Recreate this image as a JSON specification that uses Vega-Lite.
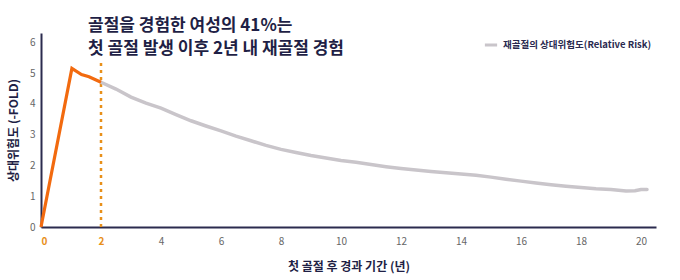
{
  "$schema": "https://vega.github.io/schema/vega-lite/v6.json",
  "width": 615,
  "height": 194,
  "autosize": {"type": "none"},
  "padding": {"left": 41, "top": 33, "right": 24, "bottom": 53},
  "background": "white",
  "config": {"view": {"stroke": null}, "font": "Noto Sans CJK KR"},
  "title": {
    "text": ["골절을 경험한 여성의 41%는", "첫 골절 발생 이후 2년 내 재골절 경험"],
    "anchor": "start",
    "frame": "group",
    "dx": 47,
    "offset": -25,
    "fontSize": 17,
    "fontWeight": "bold",
    "lineHeight": 23,
    "color": "#1f1f45",
    "font": "Noto Sans CJK KR"
  },
  "datasets": {
    "risk": [
      {"t": 2, "rr": 4.70, "s": "재골절의 상대위험도(Relative Risk)"},
      {"t": 2.5, "rr": 4.48, "s": "재골절의 상대위험도(Relative Risk)"},
      {"t": 3, "rr": 4.22, "s": "재골절의 상대위험도(Relative Risk)"},
      {"t": 3.5, "rr": 4.02, "s": "재골절의 상대위험도(Relative Risk)"},
      {"t": 4, "rr": 3.86, "s": "재골절의 상대위험도(Relative Risk)"},
      {"t": 4.5, "rr": 3.65, "s": "재골절의 상대위험도(Relative Risk)"},
      {"t": 5, "rr": 3.45, "s": "재골절의 상대위험도(Relative Risk)"},
      {"t": 5.5, "rr": 3.28, "s": "재골절의 상대위험도(Relative Risk)"},
      {"t": 6, "rr": 3.12, "s": "재골절의 상대위험도(Relative Risk)"},
      {"t": 6.5, "rr": 2.95, "s": "재골절의 상대위험도(Relative Risk)"},
      {"t": 7, "rr": 2.80, "s": "재골절의 상대위험도(Relative Risk)"},
      {"t": 7.5, "rr": 2.65, "s": "재골절의 상대위험도(Relative Risk)"},
      {"t": 8, "rr": 2.52, "s": "재골절의 상대위험도(Relative Risk)"},
      {"t": 8.5, "rr": 2.42, "s": "재골절의 상대위험도(Relative Risk)"},
      {"t": 9, "rr": 2.32, "s": "재골절의 상대위험도(Relative Risk)"},
      {"t": 9.5, "rr": 2.24, "s": "재골절의 상대위험도(Relative Risk)"},
      {"t": 10, "rr": 2.16, "s": "재골절의 상대위험도(Relative Risk)"},
      {"t": 10.5, "rr": 2.10, "s": "재골절의 상대위험도(Relative Risk)"},
      {"t": 11, "rr": 2.03, "s": "재골절의 상대위험도(Relative Risk)"},
      {"t": 11.5, "rr": 1.96, "s": "재골절의 상대위험도(Relative Risk)"},
      {"t": 12, "rr": 1.90, "s": "재골절의 상대위험도(Relative Risk)"},
      {"t": 12.5, "rr": 1.85, "s": "재골절의 상대위험도(Relative Risk)"},
      {"t": 13, "rr": 1.80, "s": "재골절의 상대위험도(Relative Risk)"},
      {"t": 13.5, "rr": 1.76, "s": "재골절의 상대위험도(Relative Risk)"},
      {"t": 14, "rr": 1.72, "s": "재골절의 상대위험도(Relative Risk)"},
      {"t": 14.5, "rr": 1.68, "s": "재골절의 상대위험도(Relative Risk)"},
      {"t": 15, "rr": 1.62, "s": "재골절의 상대위험도(Relative Risk)"},
      {"t": 15.5, "rr": 1.55, "s": "재골절의 상대위험도(Relative Risk)"},
      {"t": 16, "rr": 1.49, "s": "재골절의 상대위험도(Relative Risk)"},
      {"t": 16.5, "rr": 1.43, "s": "재골절의 상대위험도(Relative Risk)"},
      {"t": 17, "rr": 1.37, "s": "재골절의 상대위험도(Relative Risk)"},
      {"t": 17.5, "rr": 1.32, "s": "재골절의 상대위험도(Relative Risk)"},
      {"t": 18, "rr": 1.28, "s": "재골절의 상대위험도(Relative Risk)"},
      {"t": 18.5, "rr": 1.24, "s": "재골절의 상대위험도(Relative Risk)"},
      {"t": 19, "rr": 1.22, "s": "재골절의 상대위험도(Relative Risk)"},
      {"t": 19.5, "rr": 1.17, "s": "재골절의 상대위험도(Relative Risk)"},
      {"t": 19.8, "rr": 1.18, "s": "재골절의 상대위험도(Relative Risk)"},
      {"t": 20, "rr": 1.22, "s": "재골절의 상대위험도(Relative Risk)"},
      {"t": 20.2, "rr": 1.22, "s": "재골절의 상대위험도(Relative Risk)"}
    ],
    "early": [
      {"t": 0, "rr": 0},
      {"t": 1.03, "rr": 5.15},
      {"t": 1.35, "rr": 4.95},
      {"t": 1.6, "rr": 4.88},
      {"t": 2, "rr": 4.70}
    ],
    "marker": [
      {"t": 2, "rr": 0, "hi": 5.4}
    ]
  },
  "layer": [
    {
      "data": {"name": "marker"},
      "mark": {"type": "rule", "color": "#e8901a", "strokeWidth": 2.5, "strokeDash": [3, 4]},
      "encoding": {
        "x": {
          "field": "t",
          "type": "quantitative",
          "scale": {"domain": [0, 20.5], "nice": false},
          "axis": {
            "values": [0, 2, 4, 6, 8, 10, 12, 14, 16, 18, 20],
            "grid": false,
            "ticks": false,
            "labelOverlap": false,
            "domainColor": "#2b2b4e",
            "domainWidth": 2,
            "labelPadding": 9,
            "labelFontSize": 10,
            "labelColor": {"condition": {"test": "datum.value <= 2", "value": "#e8901a"}, "value": "#666666"},
            "labelFontWeight": {"condition": {"test": "datum.value <= 2", "value": "bold"}, "value": "normal"},
            "title": "첫 골절 후 경과 기간 (년)",
            "titleFontSize": 12,
            "titleFontWeight": "bold",
            "titleColor": "#1f1f45",
            "titlePadding": 15
          }
        },
        "y": {
          "field": "rr",
          "type": "quantitative",
          "scale": {"domain": [0, 6.3], "nice": false},
          "axis": {
            "values": [0, 1, 2, 3, 4, 5, 6],
            "tickCount": 7,
            "grid": false,
            "ticks": false,
            "labelOverlap": false,
            "domainColor": "#2b2b4e",
            "domainWidth": 2,
            "labelPadding": 6,
            "labelFontSize": 10,
            "labelColor": "#666666",
            "title": "상대위험도 (-FOLD)",
            "titleFontSize": 12,
            "titleFontWeight": "bold",
            "titleColor": "#1f1f45",
            "titlePadding": 9
          }
        },
        "y2": {"field": "hi"}
      }
    },
    {
      "data": {"name": "risk"},
      "mark": {"type": "line", "strokeWidth": 3.5, "strokeCap": "round"},
      "encoding": {
        "x": {"field": "t", "type": "quantitative"},
        "y": {"field": "rr", "type": "quantitative"},
        "color": {
          "field": "s",
          "type": "nominal",
          "scale": {"range": ["#c9c5ca"]},
          "legend": {
            "title": null,
            "orient": "none",
            "legendX": 442,
            "legendY": 4,
            "symbolType": "stroke",
            "symbolStrokeWidth": 3,
            "symbolSize": 150,
            "labelFontSize": 9.5,
            "labelFontWeight": "bold",
            "labelColor": "#2a2a50",
            "labelFont": "Noto Sans CJK KR"
          }
        }
      }
    },
    {
      "data": {"name": "early"},
      "mark": {"type": "line", "color": "#f26a0f", "strokeWidth": 3.2},
      "encoding": {
        "x": {"field": "t", "type": "quantitative"},
        "y": {"field": "rr", "type": "quantitative"}
      }
    }
  ]
}
